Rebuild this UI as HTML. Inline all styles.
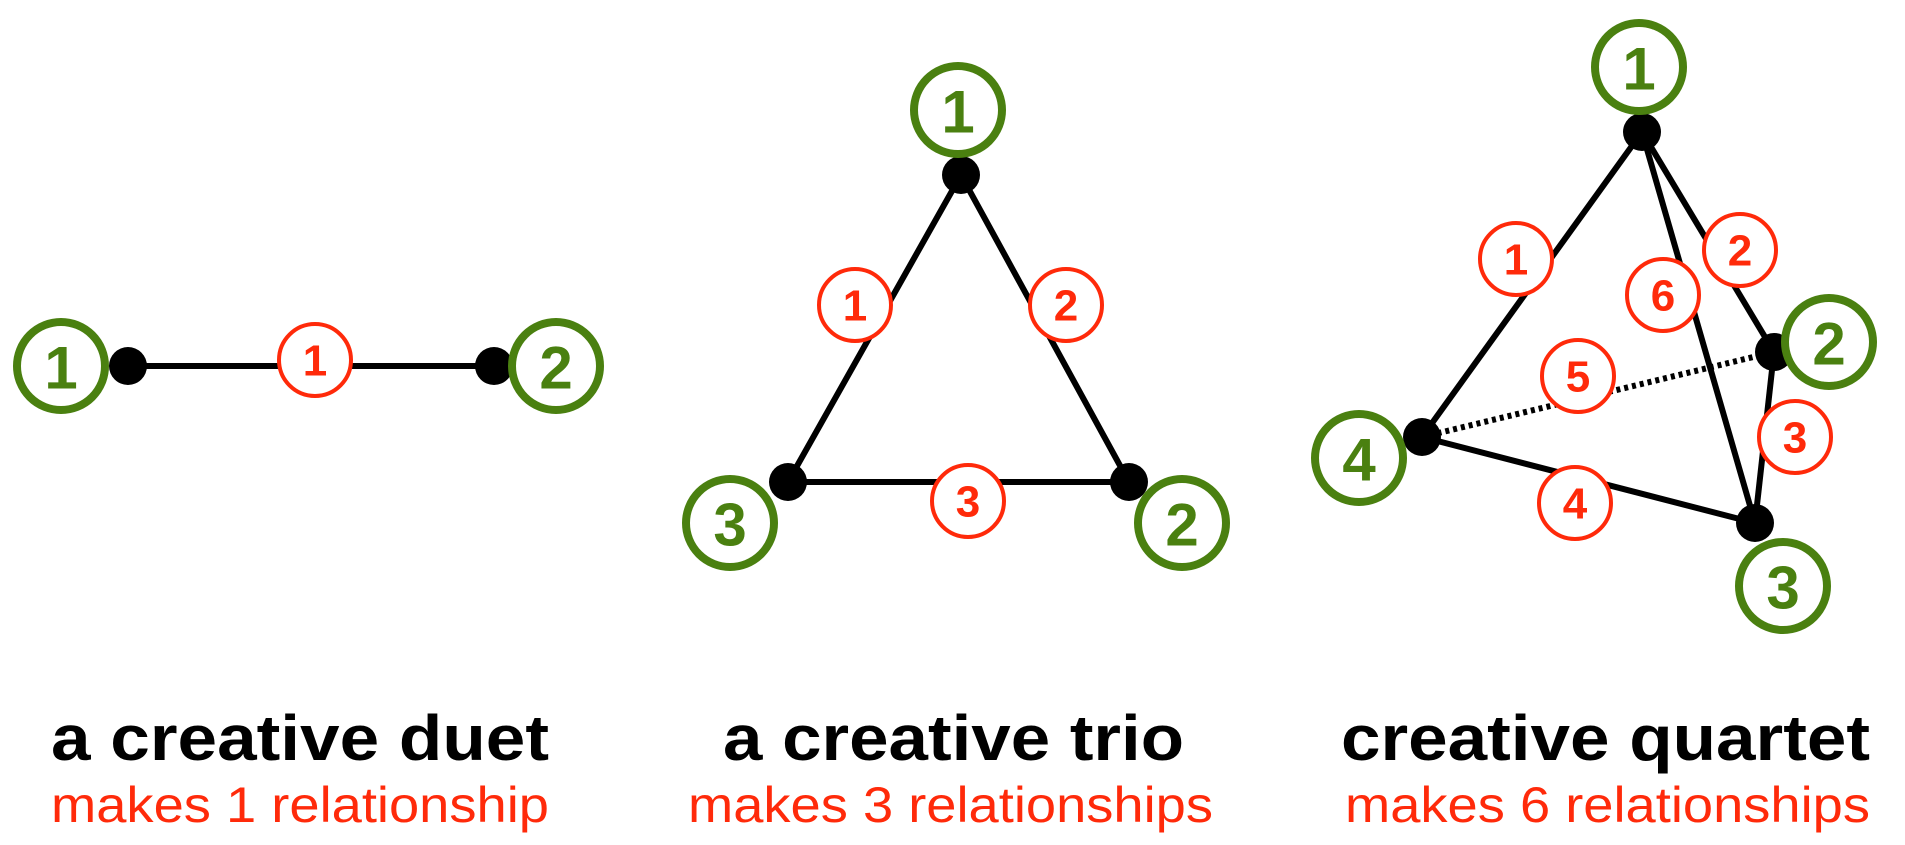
<!DOCTYPE html>
<html><head><style>
html,body{margin:0;padding:0;background:#fff;width:1905px;height:845px;overflow:hidden}
</style></head><body>
<svg width="1905" height="845" viewBox="0 0 1905 845" xmlns="http://www.w3.org/2000/svg" font-family="Liberation Sans, sans-serif">
<defs>
<style>
.e{stroke:#000;stroke-width:6;fill:none}
.g{fill:#fff;stroke:#4a8010;stroke-width:8}
.gt{fill:#4a8010;font-weight:bold;font-size:60px;text-anchor:middle;dominant-baseline:central}
.r{fill:#fff;stroke:#ff2a0a;stroke-width:4}
.rt{fill:#ff2a0a;font-weight:bold;font-size:44px;text-anchor:middle;dominant-baseline:central}
</style>
</defs>
<!-- duet -->
<line class="e" x1="128" y1="366" x2="494" y2="366"/>
<circle cx="128" cy="366" r="19"/><circle cx="494" cy="366" r="19"/>
<circle class="g" cx="61" cy="366" r="44"/><text class="gt" x="61" y="368">1</text>
<circle class="g" cx="556" cy="366" r="44"/><text class="gt" x="556" y="368">2</text>
<circle class="r" cx="315" cy="360" r="36"/><text class="rt" x="315" y="361">1</text>
<!-- trio -->
<polygon class="e" points="961,175 788,482 1129,482"/>
<circle cx="961" cy="175" r="19"/><circle cx="788" cy="482" r="19"/><circle cx="1129" cy="482" r="19"/>
<circle class="g" cx="958" cy="110" r="44"/><text class="gt" x="958" y="112">1</text>
<circle class="g" cx="730" cy="523" r="44"/><text class="gt" x="730" y="525">3</text>
<circle class="g" cx="1182" cy="523" r="44"/><text class="gt" x="1182" y="525">2</text>
<circle class="r" cx="855" cy="305" r="36"/><text class="rt" x="855" y="306">1</text>
<circle class="r" cx="1066" cy="305" r="36"/><text class="rt" x="1066" y="306">2</text>
<circle class="r" cx="968" cy="501" r="36"/><text class="rt" x="968" y="502">3</text>
<!-- quartet -->
<line class="e" x1="1642" y1="132" x2="1422" y2="437"/>
<line class="e" x1="1642" y1="132" x2="1774" y2="352"/>
<line class="e" x1="1642" y1="132" x2="1755" y2="523"/>
<line class="e" x1="1774" y1="352" x2="1755" y2="523"/>
<line class="e" x1="1422" y1="437" x2="1755" y2="523"/>
<line class="e" x1="1422" y1="437" x2="1774" y2="352" stroke-dasharray="4,4" stroke-width="6"/>
<circle cx="1642" cy="132" r="19"/><circle cx="1774" cy="352" r="19"/><circle cx="1755" cy="523" r="19"/><circle cx="1422" cy="437" r="19"/>
<circle class="g" cx="1639" cy="67" r="44"/><text class="gt" x="1639" y="69">1</text>
<circle class="g" cx="1829" cy="342" r="44"/><text class="gt" x="1829" y="344">2</text>
<circle class="g" cx="1783" cy="586" r="44"/><text class="gt" x="1783" y="588">3</text>
<circle class="g" cx="1359" cy="458" r="44"/><text class="gt" x="1359" y="460">4</text>
<circle class="r" cx="1516" cy="259" r="36"/><text class="rt" x="1516" y="260">1</text>
<circle class="r" cx="1740" cy="250" r="36"/><text class="rt" x="1740" y="251">2</text>
<circle class="r" cx="1663" cy="295" r="36"/><text class="rt" x="1663" y="296">6</text>
<circle class="r" cx="1578" cy="376" r="36"/><text class="rt" x="1578" y="377">5</text>
<circle class="r" cx="1795" cy="437" r="36"/><text class="rt" x="1795" y="438">3</text>
<circle class="r" cx="1575" cy="503" r="36"/><text class="rt" x="1575" y="504">4</text>
<!-- labels -->
<g font-weight="bold" font-size="64" fill="#000">
<text x="51" y="760" textLength="498" lengthAdjust="spacingAndGlyphs">a creative duet</text>
<text x="723" y="760" textLength="461" lengthAdjust="spacingAndGlyphs">a creative trio</text>
<text x="1341" y="760" textLength="529" lengthAdjust="spacingAndGlyphs">creative quartet</text>
</g>
<g font-size="50" fill="#ff2a0a">
<text x="51" y="822" textLength="498" lengthAdjust="spacingAndGlyphs">makes 1 relationship</text>
<text x="688" y="822" textLength="525" lengthAdjust="spacingAndGlyphs">makes 3 relationships</text>
<text x="1345" y="822" textLength="525" lengthAdjust="spacingAndGlyphs">makes 6 relationships</text>
</g>
</svg>
</body></html>
